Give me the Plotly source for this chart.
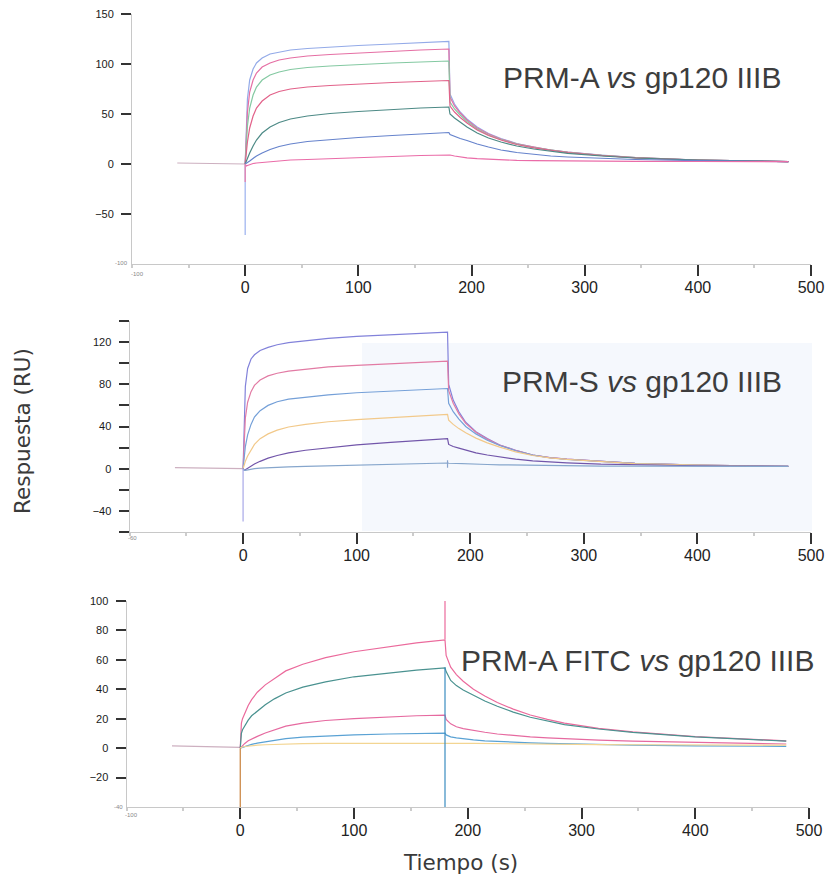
import plotly.graph_objects as go

W, H = 829, 879

# Sampling times (s)
t_base = [-60, -30, 0]
t_assoc = [0, 1, 2, 4, 7, 10, 15, 22, 30, 40, 55, 75, 100, 130, 155, 180]
t_dissoc = [181, 185, 190, 196, 205, 215, 226, 240, 255, 270, 285, 315, 345, 400, 480]

# ---- PRM-A vs gp120 IIIB (RU) ----
prma_assoc = [
    [0, 40, 65, 84, 95, 101, 106, 110, 112, 114, 115.5, 117, 118.5, 120, 121.5, 122.5],
    [0, 32, 52, 72, 84, 91, 97, 101, 104, 106, 108, 109.5, 111, 112.5, 114, 115],
    [0, 22, 38, 56, 69, 77, 84, 89, 92, 94.5, 96.5, 98, 99.5, 101, 102, 103],
    [0, 12, 22, 36, 48, 56, 63, 69, 72.5, 75, 77, 78.5, 80, 81.5, 82.5, 83.5],
    [0, 3, 6, 11, 18, 24, 31, 37, 41.5, 45, 48, 50.5, 52.5, 54.5, 56, 57],
    [0, 0.5, 1.5, 3, 5.5, 8, 11, 14.5, 17.5, 20, 22.5, 24.5, 26.5, 28.5, 30, 31.5],
    [0, -2, -1.5, -0.5, 0.5, 1, 1.5, 2.5, 3, 4, 4.5, 5.5, 6.5, 7.5, 8.5, 9],
]
prma_dissoc = [
    [70, 60, 52, 45, 37, 30.5, 25.5, 20.5, 17, 14, 12, 8.8, 6.5, 4, 2.4],
    [67, 58, 51, 44, 36, 30, 25, 20.2, 16.8, 14, 11.8, 8.7, 6.4, 4, 2.4],
    [62, 55, 49, 42.5, 35, 29, 24.5, 19.8, 16.5, 13.7, 11.6, 8.6, 6.3, 3.9, 2.4],
    [58, 52, 46.5, 41, 34, 28.5, 24, 19.5, 16.2, 13.5, 11.4, 8.5, 6.2, 3.9, 2.4],
    [50, 46, 42, 37, 31, 26, 22, 18, 15, 12.5, 10.6, 8, 6, 3.8, 2.4],
    [29.5, 27.5, 25.5, 23.5, 20, 17, 14, 11.5, 9.5, 8, 7, 5.5, 4.5, 3.3, 2.3],
    [9, 8, 7, 6.2, 5.3, 4.6, 4, 3.6, 3.3, 3.1, 3, 2.8, 2.7, 2.5, 2.3],
]
prma_base = [1, 0.5, 0]
prma_colors = ["#93aae8", "#e56fa4", "#84c9a2", "#e2628a", "#4d8a86", "#6683cc", "#ea6ca8"]
prma_spikes_t = [[0, 0], [0, 0]]
prma_spikes_y = [[0, -71], [0, -18]]
prma_spike_colors = ["#9ab0ee", "#ec7aa8"]

# ---- PRM-S vs gp120 IIIB (RU) ----
prms_assoc = [
    [0, 50, 78, 95, 104, 108, 112, 115, 117.5, 119.5, 121.5, 123.5, 125.5, 127, 128.5, 129.5],
    [0, 30, 48, 63, 73, 79, 84, 88, 90.5, 92.5, 94.5, 96.5, 98, 99.5, 101, 102],
    [0, 12, 21, 32, 42, 49, 55, 60, 63.5, 66, 68, 70, 72, 73.5, 75, 76],
    [0, 4, 7, 12, 18, 23, 28.5, 33, 36.5, 39.5, 42, 44.5, 46.5, 48.5, 50, 51.4],
    [0, -1.5, -1, 0.5, 2.5, 4.5, 7, 10, 12.5, 15, 17.5, 20, 22.5, 25, 27, 28.6],
    [0, -1.5, -1.5, -1, -0.5, 0, 0.5, 1, 1.5, 1.8, 2.2, 2.8, 3.4, 4.2, 4.8, 5.4],
]
prms_dissoc = [
    [80, 65, 54, 44, 35, 28.5, 22.5, 17.5, 13, 10.5, 9, 6.8, 5, 3.5, 2.2],
    [74, 62, 52, 43, 34.5, 28, 22.3, 17.3, 13, 10.5, 9, 6.8, 5, 3.5, 2.2],
    [62, 54, 47, 40, 33, 27, 22, 17, 12.8, 10.4, 8.9, 6.7, 5, 3.5, 2.2],
    [46, 42, 38, 34, 29, 24.5, 20.5, 16, 12.5, 10.2, 8.8, 6.6, 4.9, 3.4, 2.2],
    [23, 21, 19.5, 17.5, 15, 13, 11, 9, 7.5, 6.5, 5.6, 4.3, 3.6, 2.8, 2.2],
    [5.2, 5, 4.8, 4.6, 4.3, 4, 3.7, 3.4, 3.1, 2.9, 2.7, 2.5, 2.4, 2.3, 2.2],
]
prms_base = [1, 0.5, 0]
prms_colors = ["#8282da", "#e27ba4", "#75a0d8", "#f2c98a", "#7256aa", "#86a6cc"]
prms_spikes_t = [[0, 0], [180, 180]]
prms_spikes_y = [[0, -50], [1, 8]]
prms_spike_colors = ["#a8a8e8", "#8aa4cc"]

# ---- PRM-A FITC vs gp120 IIIB (RU) ----
fitc_assoc = [
    [0, 17, 20, 23.5, 29, 33, 38, 43, 47.5, 52.5, 57, 61.5, 65.5, 68.8, 71.5, 73.5],
    [0, 10, 12.5, 15.5, 19, 22, 25, 29.5, 33.5, 37.5, 41.5, 45, 48.5, 51.2, 53, 54.5],
    [0, 1, 2, 3.2, 5, 6.3, 8, 10.3, 12.5, 15, 17, 18.8, 20, 21.2, 22, 22.5],
    [0, 0.3, 0.6, 1.2, 2, 2.6, 3.4, 4.3, 5.3, 6.5, 7.5, 8.3, 9, 9.6, 10, 10.2],
    [0, 0.5, 0.8, 1.1, 1.4, 1.7, 2, 2.3, 2.6, 2.9, 3.1, 3.3, 3.4, 3.5, 3.6, 3.6],
]
fitc_dissoc = [
    [63, 55, 50, 45.5, 40, 35.5, 31, 26.5, 22.5, 19.5, 17, 13.5, 11, 7.8, 5],
    [52, 46, 42.5, 39.5, 36, 32, 28.5, 24.5, 21, 18.3, 16, 13, 10.7, 7.6, 4.8],
    [19.5, 16.5, 14.5, 13.3, 12, 10.8, 9.6, 8.5, 7.7, 7, 6.4, 5.5, 4.8, 3.8, 2.8],
    [9, 7.7, 7, 6.3, 5.6, 5, 4.5, 4, 3.6, 3.2, 2.9, 2.4, 2, 1.6, 1.2],
    [3.6, 3.5, 3.4, 3.3, 3.2, 3.1, 3, 2.9, 2.8, 2.7, 2.6, 2.4, 2.3, 2.1, 2],
]
fitc_base = [1.5, 1, 0.5]
fitc_colors = ["#eb6a9c", "#4a9290", "#e66aa0", "#5aa2d4", "#f3d592"]
fitc_spikes_t = [[0, 0], [180, 180], [180, 180]]
fitc_spikes_y = [[0, -40], [74, 100], [55, -40]]
fitc_spike_colors = ["#c8803a", "#eb6a9c", "#3a8cc0"]

x_ticks = [0, 100, 200, 300, 400, 500]
panel_titles = [
    "PRM-A <i>vs</i> gp120 IIIB",
    "PRM-S <i>vs</i> gp120 IIIB",
    "PRM-A FITC <i>vs</i> gp120 IIIB",
]


def px_x(x):
    return x / W


def px_y(y):
    return 1 - y / H


fig = go.Figure()

panels = [
    dict(ax="", assoc=prma_assoc, dissoc=prma_dissoc, base=prma_base, colors=prma_colors,
         st=prma_spikes_t, sy=prma_spikes_y, sc=prma_spike_colors),
    dict(ax="2", assoc=prms_assoc, dissoc=prms_dissoc, base=prms_base, colors=prms_colors,
         st=prms_spikes_t, sy=prms_spikes_y, sc=prms_spike_colors),
    dict(ax="3", assoc=fitc_assoc, dissoc=fitc_dissoc, base=fitc_base, colors=fitc_colors,
         st=fitc_spikes_t, sy=fitc_spikes_y, sc=fitc_spike_colors),
]

for p in panels:
    xa, ya = "x" + p["ax"], "y" + p["ax"]
    fig.add_trace(go.Scatter(x=t_base, y=p["base"], mode="lines", xaxis=xa, yaxis=ya,
                             line=dict(color="#cdb0c0", width=1.2), showlegend=False,
                             hoverinfo="skip"))
    for a, d, c in zip(p["assoc"], p["dissoc"], p["colors"]):
        fig.add_trace(go.Scatter(x=t_assoc + t_dissoc, y=a + d, mode="lines",
                                 xaxis=xa, yaxis=ya, line=dict(color=c, width=1.2),
                                 showlegend=False))
    for tx, ty, c in zip(p["st"], p["sy"], p["sc"]):
        fig.add_trace(go.Scatter(x=tx, y=ty, mode="lines", xaxis=xa, yaxis=ya,
                                 line=dict(color=c, width=1.2), showlegend=False,
                                 hoverinfo="skip"))

axis_line = "#c8c8c8"
tick_col = "#333333"

x_common = dict(range=[-100, 500], showline=True, linecolor=axis_line, linewidth=1,
                showgrid=False, zeroline=False, automargin=False,
                ticks="outside", ticklen=11, tickwidth=1.5,
                tickcolor=tick_col, tickvals=x_ticks, ticklabelstandoff=-2,
                tickfont=dict(family="Liberation Sans, Arial", size=16, color="#222"),
                minor=dict(dtick=50, ticks="outside", ticklen=3, tickcolor="#cccccc"))
y_common = dict(showline=True, linecolor=axis_line, linewidth=1, showgrid=False,
                zeroline=False, automargin=False, ticks="outside", ticklen=10, tickwidth=1.5,
                tickcolor=tick_col, ticklabelstandoff=5,
                tickfont=dict(family="Liberation Sans, Arial", size=11, color="#1a1a1a"))

fig.update_layout(
    width=W, height=H,
    margin=dict(l=0, r=0, t=0, b=0, autoexpand=False),
    paper_bgcolor="white", plot_bgcolor="rgba(0,0,0,0)",
    showlegend=False,
    xaxis=dict(domain=[px_x(132), px_x(811)], anchor="y", **x_common),
    yaxis=dict(domain=[px_y(264), px_y(14)], anchor="x", range=[-100, 150],
               tickvals=[-50, 0, 50, 100, 150], **y_common),
    xaxis2=dict(domain=[px_x(129.5), px_x(811)], anchor="y2", **x_common),
    yaxis2=dict(domain=[px_y(532), px_y(321)], anchor="x2", range=[-60, 140],
                tickvals=[-40, 0, 40, 80, 120],
                minor=dict(dtick=20, tick0=0, ticks="outside", ticklen=10, tickcolor=tick_col),
                **y_common),
    xaxis3=dict(domain=[px_x(126.5), px_x(809)], anchor="y3", **x_common),
    yaxis3=dict(domain=[px_y(807), px_y(601)], anchor="x3", range=[-40, 100],
                tickvals=[-20, 0, 20, 40, 60, 80, 100], **y_common),
)

# faint tint behind the PRM-S panel
fig.add_shape(type="rect", xref="paper", yref="paper",
              x0=px_x(362), x1=px_x(812), y0=px_y(531), y1=px_y(343),
              fillcolor="rgba(205,220,245,0.2)", line=dict(width=0), layer="below")

title_font = dict(family="Liberation Sans, Arial", size=30, color="#3d3d3d")
title_pos = [(642, 77), (642, 381), (637, 660)]
for txt, (cx, cy) in zip(panel_titles, title_pos):
    fig.add_annotation(text=txt, x=px_x(cx), y=px_y(cy), xref="paper", yref="paper",
                       showarrow=False, font=title_font, xanchor="center", yanchor="middle")

label_font = dict(family="DejaVu Sans", size=21.5, color="#3a3a3a")
fig.add_annotation(text="Respuesta (RU)", textangle=-90, x=px_x(22), y=px_y(431),
                   xref="paper", yref="paper", showarrow=False, font=label_font,
                   xanchor="center", yanchor="middle")
fig.add_annotation(text="Tiempo (s)", x=px_x(461), y=px_y(862), xref="paper",
                   yref="paper", showarrow=False, font=label_font,
                   xanchor="center", yanchor="middle")

# tiny corner labels at the axis minima
tiny = dict(family="Liberation Sans, Arial", size=6, color="#888")
for txt, (cx, cy) in [("-100", (121, 263)), ("-100", (137, 274)), ("-60", (132, 538)),
                      ("-40", (118, 807)), ("-100", (131, 815))]:
    fig.add_annotation(text=txt, x=px_x(cx), y=px_y(cy), xref="paper", yref="paper",
                       showarrow=False, font=tiny, xanchor="center", yanchor="middle")

fig.write_html("out.html")
